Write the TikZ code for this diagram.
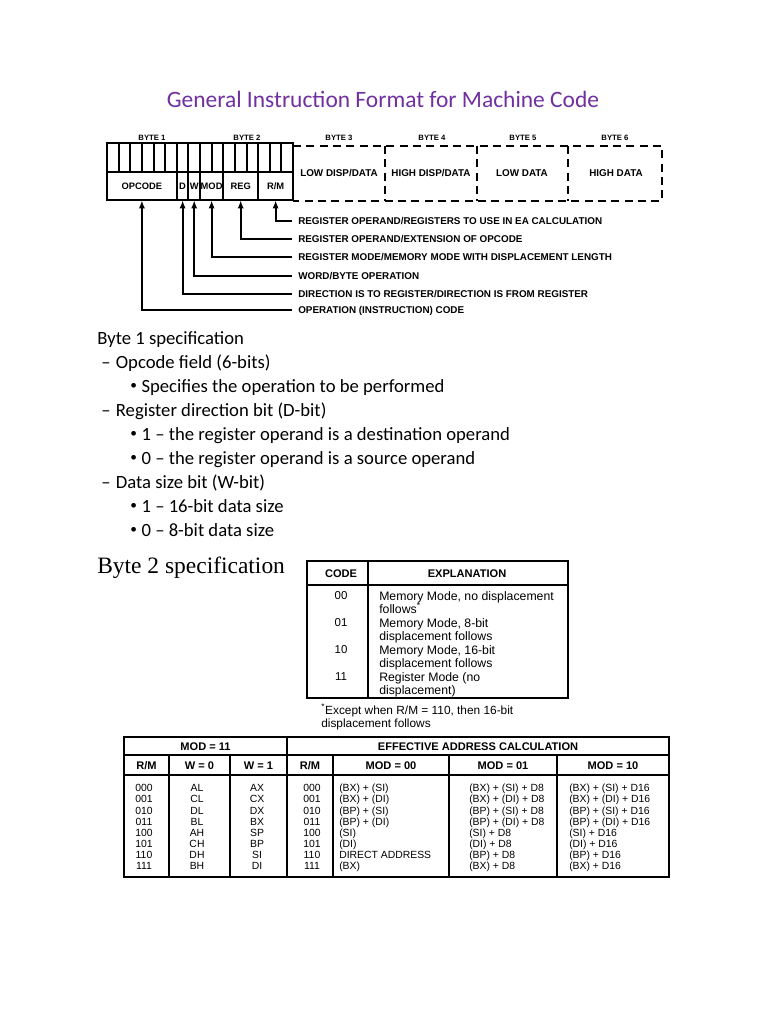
\documentclass[tikz,border=0pt]{standalone}
\usepackage{fontspec}
\setmainfont{Carlito}
\newfontfamily\scanfont{Liberation Sans}
\newfontfamily\serifhead{Liberation Serif}
\usetikzlibrary{arrows.meta}
\definecolor{titlepurple}{HTML}{7030A0}
\newcommand{\fsz}[1]{\fontsize{#1}{#1}\selectfont}
\newcommand{\bul}{{\fsz{10}\raisebox{1.8pt}{•}}\hspace{3.5pt}}
\newcommand{\footstar}{\smash{\textsuperscript{*}}}

\tikzset{
  scan/.style={font=\scanfont\bfseries\fsz{7.4}, inner sep=0pt, text height=5.3pt, text depth=0pt},
  bytelbl/.style={font=\scanfont\bfseries\fsz{5.8}, inner sep=0pt},
  fld/.style={scan, font=\scanfont\bfseries\fsz{7}, minimum height=21pt},
  lbl/.style={scan, anchor=west, inner xsep=4.5pt},
  box/.style={line width=1.9pt},
  grid/.style={line width=1.5pt},
  dashline/.style={line width=1.3pt, dash pattern=on 6pt off 4pt},
  arr/.style={line width=1.5pt, -{Latex[length=6pt,width=4.5pt]}},
  tbl/.style={line width=1.2pt},
  thead/.style={font=\scanfont\bfseries\fsz{8.3}, inner sep=0pt, text height=6pt, text depth=0pt},
  tcell/.style={font=\scanfont\fsz{7.8}, inner sep=0pt, text height=5.6pt, text depth=0pt},
  expl/.style={font=\scanfont\fontsize{9.2}{8.2}\selectfont, inner sep=0pt, align=left, anchor=north west},
  body/.style={font=\fsz{14}, inner sep=0pt, anchor=base west},
}

\begin{document}
\begin{tikzpicture}[x=0.75pt,y=-0.75pt]
  \useasboundingbox (0,0) rectangle (768,1024);

  \node[font=\fsz{17.6}, text=titlepurple, anchor=base, inner sep=0pt] (title) at (383,108)
    {General Instruction Format for Machine Code};

  % instruction bytes
  \foreach \t/\x in {1/152,2/247,3/339,4/432,5/523,6/615}
    \node[bytelbl] (byte\t) at (\x,138) {BYTE \t};
  \draw[box] (107,143) rectangle (293,200);
  \draw[box] (107,172) -- (293,172);
  \foreach \i in {1,...,15} \draw[grid] (107+\i*11.625,143) -- (107+\i*11.625,172);
  \foreach \i in {6,7,10,13} \draw[grid] (107+\i*11.625,172) -- (107+\i*11.625,200);
  \draw[box] (200,143) -- (200,200);
  \draw[dashline] (293,146) -- (662,146) -- (662,201) -- (293,201);
  \foreach \x in {385,477,568} \draw[dashline] (\x,146) -- (\x,201);

  \node[fld] (opc) at (141.9,186) {OPCODE};
  \node[fld] (dbit) at (182.6,186) {D};
  \node[fld] (wbit) at (194.2,186) {W};
  \node[fld] (mod) at (211.6,186) {MOD};
  \node[fld] (reg) at (240.7,186) {REG};
  \node[fld] (rm) at (275.6,186) {R/M};
  \node[scan] (lowdisp) at (339,173) {LOW DISP/DATA};
  \node[scan] (highdisp) at (431,173) {HIGH DISP/DATA};
  \node[scan] (lowdata) at (522,173) {LOW DATA};
  \node[scan] (highdata) at (616,173) {HIGH DATA};

  \node[lbl] (lblrm) at (292,221) {REGISTER OPERAND/REGISTERS TO USE IN EA CALCULATION};
  \node[lbl] (lblreg) at (292,239) {REGISTER OPERAND/EXTENSION OF OPCODE};
  \node[lbl] (lblmod) at (292,257) {REGISTER MODE/MEMORY MODE WITH DISPLACEMENT LENGTH};
  \node[lbl] (lblw) at (292,276) {WORD/BYTE OPERATION};
  \node[lbl] (lbld) at (292,294) {DIRECTION IS TO REGISTER/DIRECTION IS FROM REGISTER};
  \node[lbl] (lblop) at (292,310) {OPERATION (INSTRUCTION) CODE};
  \draw[arr] (lblrm.west) -| (rm.south);
  \draw[arr] (lblreg.west) -| (reg.south);
  \draw[arr] (lblmod.west) -| (mod.south);
  \draw[arr] (lblw.west) -| (wbit.south);
  \draw[arr] (lbld.west) -| (dbit.south);
  \draw[arr] (lblop.west) -| (opc.south);

  % byte 1 notes
  \node[body] (b1) at (97,344) {Byte 1 specification};
  \node[body] (opf) at (101,368) {–\hspace{4pt}Opcode field (6-bits)};
  \node[body] (opf1) at (130,392) {\bul Specifies the operation to be performed};
  \node[body] (dir) at (101,416) {–\hspace{4pt}Register direction bit (D-bit)};
  \node[body] (dir1) at (130,440) {\bul 1 – the register operand is a destination operand};
  \node[body] (dir0) at (130,464) {\bul 0 – the register operand is a source operand};
  \node[body] (dsz) at (101,488) {–\hspace{4pt}Data size bit (W-bit)};
  \node[body] (dsz1) at (130,512) {\bul 1 – 16-bit data size};
  \node[body] (dsz0) at (130,536) {\bul 0 – 8-bit data size};

  % byte 2 table
  \node[font=\serifhead\fsz{17.6}, inner sep=0pt, anchor=base west] (b2) at (97,573) {Byte 2 specification};
  \draw[tbl] (307,561) rectangle (568,698);
  \draw[tbl] (307,585) -- (568,585);
  \draw[tbl] (368,561) -- (368,698);
  \node[thead] (code) at (341,573) {CODE};
  \node[thead] (explh) at (467,573) {EXPLANATION};
  \foreach \c/\y/\e in {00/596/{Memory Mode, no displacement\\follows\footstar},
                         01/623/{Memory Mode, 8-bit\\displacement follows},
                         10/650/{Memory Mode, 16-bit\\displacement follows},
                         11/677/{Register Mode (no\\displacement)}} {
    \node[tcell, font=\scanfont\fsz{8.6}] (code\c) at (341,\y) {\c};
    \node[expl] (expl\c) at (379,\y-4.5) {\e};
  }
  \node[expl, font=\scanfont\fontsize{8.9}{8.2}\selectfont] (note) at (321,706)
    {\footstar Except when R/M = 110, then 16-bit\\displacement follows};

  % addressing table
  \draw[tbl] (124,737) rectangle (669,877);
  \draw[tbl] (124,755) -- (669,755);
  \draw[tbl] (124,775) -- (669,775);
  \draw[tbl] (287,737) -- (287,877);
  \foreach \x in {169,230,333,449,557} \draw[tbl] (\x,755) -- (\x,877);
  \node[thead] (modreg) at (205.5,746) {MOD = 11};
  \node[thead] (eac) at (478,746) {EFFECTIVE ADDRESS CALCULATION};
  \node[thead] (rma) at (146.5,765) {R/M};
  \node[thead] (wzero) at (199.5,765) {W = 0};
  \node[thead] (wone) at (258.5,765) {W = 1};
  \node[thead] (rmb) at (310,765) {R/M};
  \node[thead] (modzz) at (391,765) {MOD = 00};
  \node[thead] (modzo) at (503,765) {MOD = 01};
  \node[thead] (modoz) at (613,765) {MOD = 10};
  \foreach \code/\lo/\hi/\ma/\mb/\mc [count=\k from 0] in {
      000/AL/AX/{(BX) + (SI)}/{(BX) + (SI) + D8}/{(BX) + (SI) + D16},
      001/CL/CX/{(BX) + (DI)}/{(BX) + (DI) + D8}/{(BX) + (DI) + D16},
      010/DL/DX/{(BP) + (SI)}/{(BP) + (SI) + D8}/{(BP) + (SI) + D16},
      011/BL/BX/{(BP) + (DI)}/{(BP) + (DI) + D8}/{(BP) + (DI) + D16},
      100/AH/SP/{(SI)}/{(SI) + D8}/{(SI) + D16},
      101/CH/BP/{(DI)}/{(DI) + D8}/{(DI) + D16},
      110/DH/SI/{DIRECT ADDRESS}/{(BP) + D8}/{(BP) + D16},
      111/BH/DI/{(BX)}/{(BX) + D8}/{(BX) + D16}} {
    \node[tcell] (rma\k) at (144,788+11.15*\k) {\code};
    \node[tcell] (lo\k) at (197,788+11.15*\k) {\lo};
    \node[tcell] (hi\k) at (257,788+11.15*\k) {\hi};
    \node[tcell] (rmb\k) at (312,788+11.15*\k) {\code};
    \node[tcell, anchor=west] (ma\k) at (339,788+11.15*\k) {\ma};
    \node[tcell, anchor=west] (mb\k) at (469,788+11.15*\k) {\mb};
    \node[tcell, anchor=west] (mc\k) at (569,788+11.15*\k) {\mc};
  }
\end{tikzpicture}
\end{document}
